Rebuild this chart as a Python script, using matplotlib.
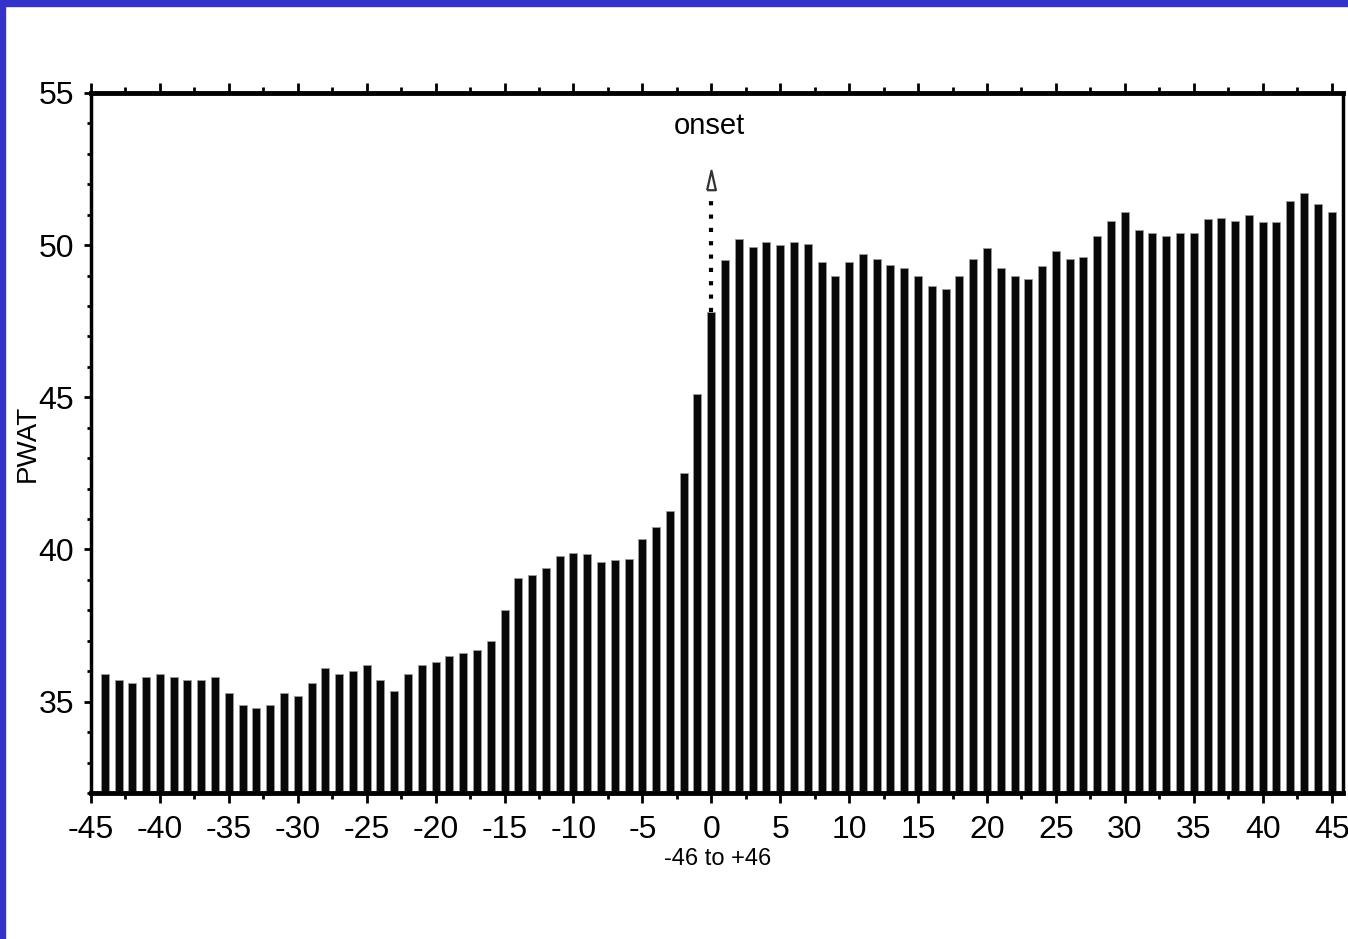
import matplotlib
matplotlib.use("Agg")
import matplotlib.pyplot as plt
from matplotlib.patches import Rectangle
from matplotlib.ticker import MultipleLocator

# composite precipitable water around monsoon onset, day -44 .. +45
days = list(range(-44, 46))
pwat = [
    35.9, 35.7, 35.6, 35.8, 35.9, 35.8, 35.7, 35.7, 35.8, 35.3,   # -44 .. -35
    34.9, 34.8, 34.9, 35.3, 35.2, 35.6, 36.1, 35.9, 36.0, 36.2,   # -34 .. -25
    35.7, 35.35, 35.9, 36.2, 36.3, 36.5, 36.6, 36.7, 37.0, 38.0,  # -24 .. -15
    39.05, 39.15, 39.4, 39.8, 39.9, 39.85, 39.6, 39.65, 39.7, 40.35,  # -14 .. -5
    40.75, 41.25, 42.5, 45.1, 47.8,                               # -4 .. 0
    49.5, 50.2, 49.95, 50.1, 50.0, 50.1, 50.05, 49.45, 49.0, 49.45,  # 1 .. 10
    49.7, 49.55, 49.35, 49.25, 49.0, 48.65, 48.55, 49.0, 49.55, 49.9,  # 11 .. 20
    49.25, 49.0, 48.9, 49.3, 49.8, 49.55, 49.6, 50.3, 50.8, 51.1,  # 21 .. 30
    50.5, 50.4, 50.3, 50.4, 50.4, 50.85, 50.9, 50.8, 51.0, 50.75,  # 31 .. 40
    50.75, 51.45, 51.7, 51.35, 51.1,                               # 41 .. 45
]
onset_day = 0
arrow_tip = 52.3

plt.rcParams["font.family"] = ["Liberation Sans", "DejaVu Sans"]
plt.rcParams["axes.unicode_minus"] = False

fig = plt.figure(figsize=(13.48, 9.39), dpi=100)
fig.patches.append(Rectangle((0, 0.994), 1, 0.006, transform=fig.transFigure,
                             color="#3333cc", zorder=0))
fig.patches.append(Rectangle((0, 0), 0.004, 1, transform=fig.transFigure,
                             color="#3333cc", zorder=0))

ax = fig.add_axes([0.0675, 0.1555, 0.929, 0.7455])
ax.bar(days, pwat, width=0.58, color="#080808", edgecolor="#9a9a9a", linewidth=0.6)

# onset marker: dotted line from the day-0 bar up to a narrow open arrowhead
onset_val = pwat[days.index(onset_day)]
ax.plot([onset_day, onset_day], [onset_val, arrow_tip - 0.55], color="black",
        lw=3, linestyle=(0, (1, 2.2)))
head = [(-0.45, -1), (0, 1), (0.45, -1), (-0.45, -1)]
ax.plot([onset_day], [arrow_tip - 0.15], marker=head, markersize=14,
        markerfacecolor="white", markeredgecolor="#333333", markeredgewidth=1.6)
ax.text(onset_day - 0.15, 53.9, "onset", ha="center", va="center", fontsize=21)

ax.set_xlim(-45, 45.85)
ax.set_ylim(32, 55)
ax.xaxis.set_major_locator(MultipleLocator(5))
ax.xaxis.set_minor_locator(MultipleLocator(2.5))
ax.yaxis.set_minor_locator(MultipleLocator(1))
ax.set_yticks([35, 40, 45, 50, 55])

for s in ("top", "bottom"):
    ax.spines[s].set_linewidth(3.5)
for s in ("left", "right"):
    ax.spines[s].set_linewidth(2.5)

ax.tick_params(axis="x", which="both", direction="out", top=True, width=2)
ax.tick_params(axis="x", which="major", length=7, pad=9, labelsize=23)
ax.tick_params(axis="x", which="minor", length=4)
ax.tick_params(axis="y", which="both", direction="out", width=2)
ax.tick_params(axis="y", which="major", length=5, pad=7, labelsize=23)
ax.tick_params(axis="y", which="minor", length=3)

ax.set_xlabel("-46 to +46", fontsize=17, labelpad=2)
ax.set_ylabel("PWAT", fontsize=20)
ax.yaxis.set_label_coords(-0.04, 0.5)

fig.savefig("out.png", dpi=100)
